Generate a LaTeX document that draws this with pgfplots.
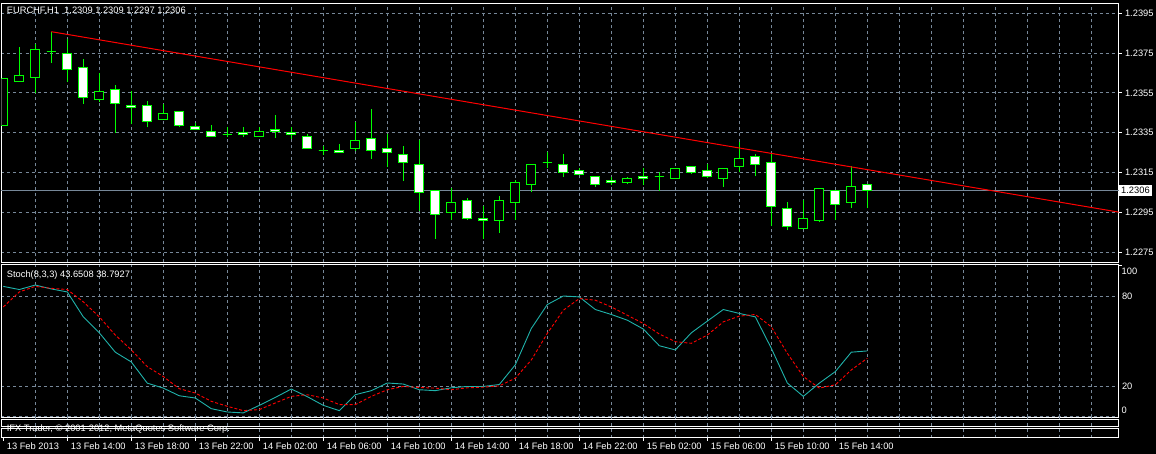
\documentclass[border=0pt]{standalone}
\usepackage{fontspec}
\setmainfont{Liberation Sans}
\usepackage{pgfplots}
\usepackage{pgfplotstable}
\pgfplotsset{compat=1.18}
\definecolor{grd}{HTML}{778899}
\definecolor{mtgreen}{HTML}{00FF00}
\definecolor{seagreen}{HTML}{20B2AA}
\newcommand{\mtfont}{\fontsize{9.3}{11}\selectfont}

\pgfplotstableread{
k o h l c
0 1.23384 1.2362 1.23384 1.2362
1 1.23608 1.23782 1.23608 1.23638
2 1.23628 1.23796 1.23548 1.23769
3 1.23757 1.23858 1.23699 1.23757
4 1.23749 1.23819 1.23606 1.23669
5 1.23679 1.23719 1.23494 1.23528
6 1.23518 1.23648 1.23506 1.23558
7 1.23568 1.2359 1.2335 1.23498
8 1.23488 1.23561 1.23394 1.23478
9 1.23488 1.23509 1.23377 1.23407
10 1.23417 1.23494 1.23417 1.23447
11 1.23458 1.23458 1.23377 1.23384
12 1.23379 1.2340 1.23367 1.23367
13 1.23357 1.23387 1.23328 1.23333
14 1.23343 1.2338 1.2333 1.23343
15 1.23352 1.2338 1.23327 1.23342
16 1.23333 1.2338 1.2333 1.23357
17 1.23367 1.23437 1.23322 1.23357
18 1.23352 1.23377 1.2332 1.23342
19 1.2333 1.23342 1.23272 1.23272
20 1.23262 1.23283 1.23238 1.23262
21 1.23262 1.23293 1.23252 1.23252
22 1.23272 1.23402 1.2326 1.23312
23 1.23322 1.23469 1.23219 1.23262
24 1.23272 1.23342 1.23179 1.23252
25 1.23241 1.23283 1.23109 1.23201
26 1.23191 1.23312 1.22955 1.2305
27 1.23061 1.23061 1.22817 1.2294
28 1.2295 1.23072 1.22911 1.2300
29 1.2301 1.2302 1.2291 1.2292
30 1.2292 1.2298 1.22817 1.2291
31 1.2291 1.23032 1.22847 1.2301
32 1.2300 1.23114 1.22911 1.23101
33 1.23091 1.23191 1.2305 1.23191
34 1.23201 1.23253 1.23171 1.23201
35 1.23191 1.23243 1.23129 1.23151
36 1.23161 1.23171 1.23141 1.23141
37 1.23131 1.23131 1.23079 1.23091
38 1.23111 1.23129 1.23086 1.23101
39 1.23101 1.23129 1.23091 1.23121
40 1.23131 1.23171 1.23087 1.23121
41 1.23131 1.23151 1.23059 1.23131
42 1.23121 1.23171 1.23121 1.23171
43 1.23181 1.23181 1.23141 1.23151
44 1.23161 1.23191 1.23121 1.23131
45 1.23121 1.23171 1.23079 1.23171
46 1.23181 1.23305 1.23151 1.23221
47 1.23231 1.23241 1.23131 1.23191
48 1.23201 1.23246 1.2288 1.2298
49 1.2297 1.23002 1.2286 1.2288
50 1.2287 1.23012 1.2287 1.2292
51 1.2291 1.23071 1.2290 1.23071
52 1.23061 1.23061 1.2291 1.2299
53 1.2300 1.23183 1.2297 1.23081
54 1.2309 1.2309 1.2297 1.2306
}\ohlc

\pgfplotstableread{
k main sig
0 86.6 72.9
1 84.5 82.9
2 87.5 86.6
3 84.9 85.3
4 82.9 84.5
5 66.3 76.3
6 55.7 66.3
7 42.8 54.2
8 36.3 44.3
9 22.2 33.2
10 18.9 26.6
11 13.8 18.5
12 12.3 15.6
13 5.2 10.1
14 3.0 6.8
15 2.4 3.9
16 7.4 4.6
17 12.7 9.0
18 18.3 13.4
19 13.2 14.5
20 7.4 12.3
21 3.9 7.9
22 14.5 7.9
23 17.2 13.4
24 22.3 17.8
25 21.6 20.0
26 17.8 19.3
27 17.2 18.9
28 19.1 17.8
29 20.0 19.1
30 20.0 19.5
31 21.3 20.4
32 34.4 25.5
33 58.6 37.6
34 74.5 55.3
35 80.2 70.7
36 79.6 78.5
37 71.2 77.4
38 67.9 72.9
39 64.1 67.4
40 58.2 61.9
41 47.1 54.9
42 44.3 49.8
43 55.7 48.7
44 63.5 54.2
45 71.2 63.0
46 68.6 66.8
47 66.3 67.9
48 45.4 59.7
49 22.3 42.1
50 13.4 26.6
51 22.2 18.9
52 29.9 21.1
53 42.8 31.0
54 43.6508 38.7927
}\stoch

\begin{document}
\begin{tikzpicture}[x=1pt, y=1pt, font=\mtfont]
\fill[black] (0pt,0pt) rectangle (1156pt,454pt);
\useasboundingbox (0pt,0pt) rectangle (1156pt,454pt);

% ---------------- main price panel
\begin{axis}[
  at={(1.5pt,191.7pt)}, anchor=south west,
  width=1117pt, height=259.3pt, scale only axis,
  xmin=-0.1125, xmax=69.7, ymin=1.226982, ymax=1.240018,
  axis line style={white, line width=0.8pt},
  xtick={2,4,...,68}, xticklabels={}, xmajorgrids,
  ytick={1.2275,1.2295,1.2315,1.2335,1.2355,1.2375,1.2395},
  yticklabels={1.2275,1.2295,1.2315,1.2335,1.2355,1.2375,1.2395},
  ymajorgrids, ytick pos=right, yticklabel pos=right,
  grid style={grd, dash pattern=on 3pt off 3pt, line width=0.8pt},
  major tick length=3pt, tick align=outside,
  xtick style={draw=none}, ytick style={white, line width=0.8pt},
  tick label style={text=white, font=\mtfont},
  extra y ticks={1.2306}, extra y tick labels={1.2306},
  extra y tick style={major grid style={grd, solid, line width=0.8pt},
     yticklabel style={fill=white, text=black, inner xsep=2.5pt, inner ysep=0pt, minimum height=11pt, xshift=-3pt}},
]
\pgfplotsforeachungrouped \i in {0,...,54}{%
  \pgfplotstablegetelem{\i}{k}\of\ohlc \let\cK\pgfplotsretval
  \pgfplotstablegetelem{\i}{o}\of\ohlc \let\cO\pgfplotsretval
  \pgfplotstablegetelem{\i}{h}\of\ohlc \let\cH\pgfplotsretval
  \pgfplotstablegetelem{\i}{l}\of\ohlc \let\cL\pgfplotsretval
  \pgfplotstablegetelem{\i}{c}\of\ohlc \let\cC\pgfplotsretval
  \pgfmathsetmacro{\cKL}{\cK-0.28}%
  \pgfmathsetmacro{\cKR}{\cK+0.28}%
  \ifdim\cC pt<\cO pt \def\fc{white}\else\def\fc{black}\fi
  \edef\cmd{%
    \noexpand\addplot[mtgreen, line width=1pt, forget plot] coordinates {(\cK,\cL) (\cK,\cH)};
    \noexpand\addplot[draw=mtgreen, fill=\fc, line width=1pt, forget plot] coordinates {(\cKL,\cO) (\cKR,\cO) (\cKR,\cC) (\cKL,\cC)} -- cycle;
  }\cmd
}
\addplot[red, line width=1pt] coordinates {(3,1.238575) (72,1.229194)};
\end{axis}

% ---------------- stochastic panel
\begin{axis}[
  at={(1.5pt,37pt)}, anchor=south west,
  width=1117pt, height=152.7pt, scale only axis,
  xmin=-0.1125, xmax=69.7, ymin=-0.33, ymax=101.3,
  axis line style={white, line width=0.8pt},
  xtick={2,4,...,68}, xticklabels={}, xmajorgrids,
  ytick={0,20,80}, yticklabels={,20,80},
  ymajorgrids, ytick pos=right, yticklabel pos=right,
  grid style={grd, dash pattern=on 3pt off 3pt, line width=0.8pt},
  major tick length=0pt,
  tick label style={text=white, font=\mtfont},
  extra x ticks={0,4,...,52},
  extra x tick labels={13 Feb 2013,13 Feb 14:00,13 Feb 18:00,13 Feb 22:00,14 Feb 02:00,14 Feb 06:00,14 Feb 10:00,14 Feb 14:00,14 Feb 18:00,14 Feb 22:00,15 Feb 02:00,15 Feb 06:00,15 Feb 10:00,15 Feb 14:00},
  extra x tick style={grid=none, xticklabel style={anchor=west, yshift=-28.7pt, xshift=0pt}},
]
\addplot[seagreen, line width=0.9pt] table[x=k, y=main] {\stoch};
\addplot[red, line width=0.9pt, dash pattern=on 3pt off 2pt] table[x=k, y=sig] {\stoch};
\end{axis}

% stochastic scale labels at the ends
\node[anchor=west, text=white, inner sep=0pt] at (1121.5pt,183pt) {100};
\node[anchor=west, text=white, inner sep=0pt] at (1121.5pt,43.7pt) {0};
\draw[white, line width=0.8pt] (1118.5pt,188.3pt) -- (1121.5pt,188.3pt);

% bottom strips and time tick marks
\foreach \j in {1,...,34} {\draw[grd, dash pattern=on 3pt off 3pt, line width=0.8pt] ({(3.3+32*\j)*1pt},37pt) -- ({(3.3+32*\j)*1pt},13pt);}
\draw[white, line width=0.8pt] (1.5pt,27.7pt) rectangle (1118.5pt,35pt);
\draw[white, line width=0.8pt] (1.5pt,16.7pt) rectangle (1118.5pt,25.7pt);
\foreach \j in {0,...,13} {\draw[white, line width=0.8pt] ({(3.3+64*\j)*1pt},16.7pt) -- ++(0pt,-3.5pt);}

% texts
\node[anchor=west, text=white, inner sep=0pt] at (6.7pt,443pt) {EURCHF,H1\ \ 1.2309 1.2309 1.2297 1.2306};
\node[anchor=west, text=white, inner sep=0pt] at (6.7pt,179.3pt) {Stoch(8,3,3) 43.6508 38.7927};
\node[anchor=west, text=white, inner sep=0pt] at (6.7pt,25.3pt) {IFX Trader, © 2001-2012, MetaQuotes Software Corp.};
\end{tikzpicture}
\end{document}
